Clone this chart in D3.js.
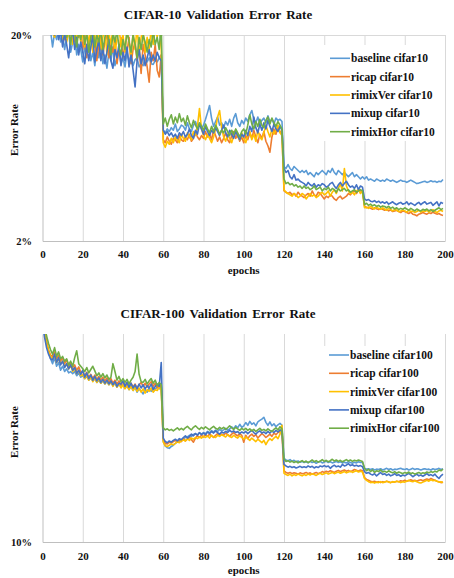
<!DOCTYPE html>
<html>
<head>
<meta charset="utf-8">
<title>CIFAR Validation Error Rate</title>
<script src="https://d3js.org/d3.v7.min.js"></script>
<style>
  body { margin: 0; background: #fff; }
  svg text { font-family: "Liberation Serif", "Times New Roman", serif; font-weight: bold; fill: #111; }
  .grid line { stroke: #d9d9d9; }
  .grid path { stroke: #bfbfbf; }
  .title { font-size: 13px; word-spacing: 2px; }
</style>
</head>
<body>
<div id="chart"></div>
<script>
"use strict"

// categories
const epochs = d3.range(200);
const xTicks = d3.range(0, 201, 20);
const names10 = ["baseline cifar10", "ricap cifar10", "rimixVer cifar10", "mixup cifar10", "rimixHor cifar10"];
const names100 = ["baseline cifar100", "ricap cifar100", "rimixVer cifar100", "mixup cifar100", "rimixHor cifar100"];
const colors = ["#5b9bd5", "#ed7d31", "#ffc000", "#4472c4", "#70ad47"];

// CIFAR-10 error rate (%) per epoch
const baseline10 = [
48,35,28,24,21,17.5,20.5,19,21.5,18.5, 20,17,19.5,21,16.5,18.5,20,16,18,17,
14.8,17.5,16,18.5,15,16.5,14.2,17.5,15.5,18.5, 14.5,16,13.8,16.5,15,17.5,14.2,15.5,17,14.5,
15.5,14,16.5,14.8,16,14.2,15.2,15.5,14,14.5, 14.2,15.5,14.8,15.5,14.5,14.4,15,14.8,15.5,16,
6.9,6.7,7.0,6.8,7.1,6.9,7.4,6.8,7.0,7.3, 7.2,6.9,7.5,7.0,6.8,7.3,7.6,7.1,7.4,7.0,
7.3,7.8,8.4,9.1,7.9,7.2,7.6,8.0,7.3,7.5, 7.1,7.6,7.3,7.8,7.2,7.9,8.3,7.5,7.2,7.7,
7.4,7.9,7.6,8.2,8.6,7.8,7.5,8.0,7.4,7.7, 7.9,7.5,8.1,7.6,7.8,7.4,7.9,7.7,7.8,7.6,
4.6,4.5,4.7,4.5,4.4,4.6,4.5,4.4,4.3,4.4, 4.3,4.4,4.2,4.3,4.2,4.1,4.3,4.2,4.3,4.4,
4.3,4.2,4.4,4.3,4.5,4.3,4.2,4.4,4.3,4.2, 4.3,4.2,4.1,4.2,4.3,4.1,4.2,4.1,4.0,4.1,
4.0,4.1,3.95,4.0,3.95,3.9,4.0,3.95,3.9,3.95, 3.9,4.0,3.95,3.9,3.95,3.9,3.85,3.9,3.95,3.9,
3.9,3.85,3.9,3.95,3.9,3.85,3.8,3.82,3.85,3.88, 3.9,3.85,3.88,3.92,3.88,3.9,3.85,3.9,3.88,3.98];
const ricap10 = [
50,38,30,26,23,22,24,21,23,20.5, 22,19,21,23,20,22,18.5,21,19.5,22,
17,20,15.5,19,21,16.5,19,15,18,20, 16,18.5,20.5,15.5,18,16.5,19,14.5,17,19.5,
15.5,18,16.5,19.5,14.5,17,18.5,15,17.5,13, 18,16,14,11.8,16.5,15,18,13.5,12.5,16,
6.2,6.0,6.4,6.1,5.9,6.3,6.2,6.0,6.5,6.2, 6.1,6.4,6.2,6.6,6.1,6.3,6.8,6.4,6.2,6.5,
6.3,6.8,6.4,6.6,6.2,6.9,6.5,6.1,6.4,6.0, 6.3,6.7,6.2,6.0,6.5,6.8,6.3,6.6,6.1,6.4,
6.0,6.5,6.2,6.7,6.3,6.9,6.4,6.0,6.6,6.3, 6.8,6.1,5.8,5.4,6.4,7.0,6.6,7.2,6.8,6.6,
3.5,3.45,3.4,3.45,3.35,3.4,3.3,3.45,3.35,3.3, 3.25,3.35,3.4,3.3,3.5,3.35,3.3,3.45,3.4,3.3,
3.2,3.3,3.25,3.35,3.3,3.2,3.15,3.25,3.3,3.2, 3.25,3.3,3.4,3.35,3.45,3.5,3.4,3.55,3.5,3.45,
2.95,2.9,2.92,2.88,2.85,2.9,2.87,2.84,2.88,2.85, 2.82,2.85,2.8,2.83,2.78,2.8,2.82,2.78,2.75,2.8,
2.78,2.75,2.72,2.76,2.7,2.68,2.65,2.7,2.72,2.75, 2.72,2.7,2.74,2.72,2.76,2.73,2.7,2.72,2.68,2.66];
const rimixVer10 = [
52,40,31,25,22.5,20.5,19.5,21,20,22, 19,21.5,18.5,20.5,22.5,18,21,19.5,22,18.5,
20.5,17.5,21,18,22,16.5,20,17.5,21.5,17, 19.5,22,16,20.5,18,21.5,16.5,19,22,17.5,
20,16.5,21,18.5,15.5,20.5,17,22,16,19.5, 21,16.5,19.5,17,21.5,18,22,19.5,23,17,
6.0,5.7,6.1,5.9,6.3,6.0,6.4,6.2,6.0,6.6, 6.3,6.1,6.7,6.4,6.2,6.8,6.5,7.2,8.8,7.0,
6.5,6.2,6.6,6.3,6.0,6.4,7.0,8.0,8.6,7.1, 6.4,6.1,6.6,6.3,6.0,6.5,6.9,6.4,6.2,6.7,
6.3,6.0,6.5,6.8,6.2,6.6,6.1,6.9,6.4,6.2, 6.7,7.3,6.8,6.4,7.0,6.6,6.9,7.3,6.7,6.5,
3.55,3.45,3.4,3.35,3.3,3.4,3.35,3.25,3.3,3.4, 3.35,3.2,3.3,3.4,3.3,3.35,3.25,3.3,3.4,3.45,
3.35,3.4,3.5,3.3,3.45,3.55,3.4,3.6,3.8,3.5, 4.5,3.7,3.5,3.4,3.45,3.35,3.5,3.55,3.4,3.5,
2.9,2.92,2.88,2.95,2.9,2.86,2.92,2.88,2.85,2.9, 2.86,2.82,2.88,2.84,2.8,2.85,2.82,2.78,2.8,2.83,
2.8,2.76,2.82,2.78,2.8,2.75,2.78,2.82,2.76,2.8, 2.78,2.82,2.76,2.8,2.84,2.78,2.75,2.8,2.82,2.78];
const mixup10 = [
55,42,33,27,24,22,20,23,19,21, 17.5,20.5,18,15.5,19,21,17,19.5,16,18.5,
16.5,14.5,18,15,17.5,20,14.8,17,19,15, 17.5,14.5,16.5,19,15,13.8,17,15.5,18,14.2,
16.5,15,17.5,14,16,13.5,11.2,15,17,14.5, 16,14.2,15.5,17,14.8,16,15,16.5,15.5,15,
6.9,6.6,6.8,6.5,6.7,6.4,6.6,6.3,6.7,6.5, 6.8,6.4,6.6,7.0,6.5,6.3,6.9,6.6,7.4,7.0,
6.6,7.2,6.8,6.5,6.9,6.7,7.1,6.8,6.5,6.9, 7.3,6.7,6.4,6.9,6.6,6.3,6.8,6.5,6.2,6.6,
6.4,6.9,6.5,7.2,6.8,8.0,7.1,6.7,7.4,6.9, 7.5,7.0,7.7,7.2,6.8,7.4,7.0,6.8,7.2,6.9,
4.5,4.3,4.4,4.1,4.0,4.2,3.95,4.0,3.9,3.85, 3.8,3.7,3.85,3.75,3.7,3.8,3.65,3.75,3.7,3.8,
3.75,3.65,3.7,3.8,3.85,3.7,3.6,3.75,3.85,3.7, 3.8,3.9,3.75,3.65,3.7,3.6,3.75,3.55,3.7,3.65,
3.2,3.15,3.18,3.12,3.1,3.14,3.08,3.12,3.06,3.1, 3.05,3.1,3.02,3.06,3.1,3.04,3.0,3.05,3.08,3.02,
3.04,3.1,3.0,3.06,3.02,2.98,3.04,3.08,3.0,3.06, 3.1,3.02,3.05,3.08,2.98,3.04,3.1,2.96,3.08,3.04];
const rimixHor10 = [
58,44,34,28,25,23,21.5,24,20.5,22.5, 20,23,19.5,21.5,18,22,20.5,17.5,21,19,
22,18,20.5,16.5,19.5,22,17.5,20,18.5,21.5, 17,19.5,22,18,16,20.5,18.5,21,17.5,16,
19,17,21,18.5,16.5,20,18,15.5,19.5,17, 20,18.5,16.5,19,17.5,21,18,19.5,17,23,
7.4,7.9,7.2,7.8,8.2,7.4,8.0,7.5,8.3,7.6, 7.9,7.3,8.1,7.5,7.1,7.7,7.3,7.0,7.5,7.2,
6.9,7.4,7.0,6.7,7.2,6.8,7.3,7.0,6.6,6.9, 6.7,7.1,6.8,6.5,6.9,6.6,7.0,6.7,6.4,6.8,
7.0,6.6,7.3,8.2,7.4,7.0,7.6,7.2,7.8,7.3, 7.1,7.7,8.0,7.4,7.9,7.5,7.2,7.6,7.3,7.0,
4.0,3.8,3.85,3.75,3.8,3.7,3.75,3.65,3.7,3.6, 3.7,3.6,3.65,3.55,3.6,3.7,3.55,3.6,3.65,3.5,
3.6,3.55,3.65,3.5,3.6,3.55,3.45,3.6,3.5,3.55, 3.6,3.5,3.55,3.45,3.5,3.55,3.45,3.5,3.55,3.5,
3.0,3.05,2.98,3.02,2.96,3.0,2.94,2.98,2.92,2.96, 2.94,2.9,2.95,2.88,2.92,2.86,2.9,2.84,2.88,2.85,
2.9,2.86,2.82,2.88,2.84,2.8,2.86,2.82,2.8,2.85, 2.82,2.86,2.8,2.84,2.78,2.82,2.86,2.9,2.84,2.88];

// CIFAR-100 error rate (%) per epoch
const baseline100 = [
115,100,90,82,76,72,77,70,73,67, 70,66,68,65,66,64.5,66,63,65,62,
63,61,62.5,60,61.5,59.5,61,58.5,60,58, 59.5,57.5,59,57,58.5,56.5,58,55.5,57.5,56,
57,55,56.5,54,56,53.5,55.5,52.5,54.5,53, 51.5,54,52.5,55,53,55.5,54,56,54.5,56,
30.5,29.0,28.4,28.2,28.8,29.2,29.8,30.2,30.6,31.0, 31.4,31.8,32.0,32.6,32.2,32.9,33.2,32.7,33.5,33.0,
33.6,33.2,34.0,33.5,34.3,33.8,34.5,34.0,34.8,34.2, 34.6,35.2,34.4,35.0,35.8,35.0,36.2,35.4,36.8,35.6,
36.2,37.5,36.4,38.0,36.8,37.4,36.2,37.8,38.4,39.0, 39.8,37.6,36.4,37.8,36.2,37.0,35.8,36.6,37.2,36.4,
25.2,24.8,24.6,24.9,24.4,24.7,24.3,24.5,24.2,24.4, 24.1,24.3,24.0,24.4,24.1,24.3,23.9,24.2,24.4,24.0,
24.2,24.5,24.1,24.3,24.0,24.2,24.4,24.1,24.3,24.0, 24.2,24.0,24.3,24.1,23.9,24.2,24.0,24.3,24.1,24.2,
22.6,22.4,22.5,22.3,22.5,22.2,22.4,22.3,22.5,22.2, 22.4,22.6,22.3,22.5,22.2,22.4,22.3,22.5,22.6,22.4,
22.3,22.5,22.2,22.4,22.6,22.3,22.5,22.4,22.2,22.4, 22.5,22.3,22.4,22.2,22.5,22.3,22.4,22.6,22.3,22.5];
const ricap100 = [
120,105,92,84,79,78,82,76,79,74, 77,72,75,70,73,69,71,67,69.5,65.5,
66,63,65.5,62,64,61,63.5,60.5,62.5,60, 62,59.5,61.5,58.5,61,58,60,57.5,59.5,57,
59,56.5,58.5,56,58,55.5,57.5,55,57,58.5, 56,58,55.5,57.5,59,56,58,55,57,56,
31.0,29.8,29.6,30.2,29.9,30.4,30.8,30.2,31.0,30.4, 31.4,30.6,31.2,32.0,31.0,30.2,31.6,32.4,31.8,32.6,
32.0,32.8,32.2,33.0,32.4,31.8,32.6,33.2,32.4,33.0, 32.6,33.4,32.8,32.2,33.0,33.6,32.8,32.4,33.2,32.6,
30.2,32.6,31.4,32.4,33.0,32.2,32.8,31.6,32.4,33.2, 32.6,31.8,32.4,33.0,32.2,33.4,32.8,33.6,34.0,32.8,
22.0,21.6,21.4,21.6,21.3,21.5,21.4,21.2,21.5,21.3, 21.4,21.6,21.3,21.5,21.2,21.4,21.6,21.3,21.5,21.8,
21.6,21.9,21.7,22.0,21.8,21.6,21.9,22.1,21.8,22.0, 22.2,21.9,22.1,21.8,22.0,22.3,22.1,21.9,22.2,22.0,
20.4,20.0,19.8,19.6,19.5,19.6,19.4,19.5,19.3,19.5, 19.4,19.6,19.5,19.3,19.5,19.4,19.6,19.5,19.7,19.6,
19.8,19.6,19.7,19.9,19.7,19.8,19.6,19.8,19.9,19.7, 19.9,20.1,19.9,20.2,20.0,19.8,19.6,19.5,19.3,19.4];
const rimixVer100 = [
118,102,90,83,78,76,79,73,76,72, 74,70,72,68,70.5,66,68,64.5,67,63,
64,61,63,60,62,59,61.5,58.5,60.5,58, 60,57.5,59.5,57,59,56,58.5,55.5,57.5,55,
57,54.5,56.5,54,56,53.5,55.5,53,55,52.5, 54.5,52,54,53,55,52.5,54,53.5,55.5,54,
30.2,29.0,28.8,29.2,29.6,29.3,29.8,30.4,30.0,30.6, 31.0,30.6,31.4,30.8,31.6,31.2,31.8,31.4,32.0,31.6,
32.2,31.8,32.4,31.6,32.6,32.0,31.8,32.6,32.2,32.8, 32.4,32.0,32.8,32.2,31.8,32.6,32.0,31.6,32.4,31.8,
31.2,32.0,31.4,30.8,31.6,31.0,30.4,31.2,30.6,30.0, 30.8,29.4,30.6,31.4,30.8,31.6,32.2,31.4,33.0,36.4,
21.4,21.1,20.9,21.2,20.8,21.1,20.9,21.2,21.0,20.8, 21.1,20.9,21.2,21.0,21.3,21.1,20.9,21.2,21.4,21.1,
21.3,21.5,21.2,21.4,21.6,21.3,21.5,21.7,21.4,21.6, 21.8,21.5,21.7,21.9,21.6,21.8,22.0,21.7,21.9,21.7,
20.2,19.8,19.5,19.3,19.4,19.2,19.4,19.3,19.5,19.3, 19.4,19.6,19.4,19.3,19.5,19.4,19.6,19.5,19.3,19.5,
19.4,19.6,19.8,19.6,19.5,19.7,19.5,19.3,19.2,19.4, 19.6,19.8,19.6,19.9,19.7,19.8,19.6,19.4,19.5,19.3];
const mixup100 = [
112,97,86,80,76,75,80,73,77,71, 74,69,72,68,71,67,69,64.5,67,64,
67,62,65,61,63.5,60,62.5,59.5,61.5,58.5, 60.5,58,60,57.5,59.5,57,59,56,58,57.5,
59.5,56,58.5,55.5,58,55,57,54.5,57.5,55, 57,54.5,56.5,55,57.5,54,56,57.5,56,73,
31.6,30.4,30.0,30.6,30.2,30.8,31.2,30.6,31.4,31.0, 31.8,32.4,31.6,32.2,33.0,32.4,33.2,32.6,33.6,32.8,
33.4,32.8,33.8,33.2,34.0,33.4,34.2,33.6,33.0,33.8, 33.4,34.0,33.6,34.4,33.8,34.2,33.6,34.0,33.2,33.8,
33.4,34.0,33.2,33.8,34.4,33.6,33.0,33.8,34.2,33.4, 33.8,33.2,34.0,33.4,34.2,33.6,34.4,33.8,34.6,34.0,
23.6,23.2,22.9,23.1,22.8,23.0,22.7,22.9,23.1,22.8, 23.0,22.8,23.2,22.9,23.1,22.7,23.0,22.8,23.2,23.0,
23.3,23.0,23.2,22.6,23.1,23.4,23.0,23.2,22.9,23.6, 23.2,23.4,23.8,23.3,23.5,23.2,23.4,23.1,23.3,23.0,
21.8,21.4,21.6,21.2,21.0,21.3,20.8,21.2,21.6,21.1, 21.3,20.9,21.2,20.8,21.0,21.3,20.9,21.1,20.7,21.0,
20.8,21.1,21.4,21.0,20.6,20.9,21.2,20.8,21.0,20.7, 21.0,21.3,20.9,21.1,20.8,21.2,20.6,20.2,20.8,21.2];
const rimixHor100 = [
125,110,98,90,84,80,86,78,82,76, 78,74,76,71,74,70,77,83,72,70,
68,66,69,65,67.5,70,66.5,63,65,62, 64.5,61.5,63.5,60.5,62,72,66,60,62.5,59,
61,58.5,60.5,57.5,60,62,66,80,64,59, 58.5,60.5,57.5,59.5,61,58,60,56.5,58.5,57,
35.4,34.6,35.0,34.4,34.8,34.2,34.8,35.4,34.6,35.2, 34.6,35.4,36.0,35.2,34.6,35.6,36.2,35.4,34.8,35.6,
35.0,35.8,35.2,34.6,35.4,36.0,35.2,34.8,35.6,35.0, 35.6,34.8,35.4,36.2,35.4,34.8,35.6,35.0,34.4,35.2,
34.6,35.2,34.4,35.0,34.2,34.8,34.0,34.6,35.2,34.4, 34.8,34.2,35.0,34.4,34.0,34.8,35.4,34.6,35.8,35.0,
25.0,24.4,24.6,24.2,24.5,24.1,24.4,24.0,24.3,24.6, 24.2,24.5,24.1,24.4,24.8,24.3,24.6,24.2,24.5,24.9,
24.4,24.7,24.3,24.6,25.0,24.5,24.8,24.4,24.7,24.3, 24.6,24.9,24.5,24.8,24.4,24.7,24.5,24.8,24.6,24.4,
22.6,22.0,22.4,21.8,22.2,21.6,22.0,21.8,22.2,21.7, 21.9,21.6,22.0,21.7,21.5,21.8,21.4,21.7,21.5,21.3,
21.6,21.4,21.7,21.3,21.5,21.2,21.4,21.6,21.3,21.5, 21.4,21.7,21.5,21.8,21.6,21.9,21.7,22.2,22.0,22.4];

const W = 454, H = 578;
const svg = d3.select("#chart").append("svg")
    .attr("width", W)
    .attr("height", H)
    .style("background", "#fff");

const x = d3.scaleLinear().domain([0, 200]).range([42.5, 445]);

const panels = [
  { id: "c10", title: "CIFAR-10 Validation Error Rate", titleY: 19, top: 35, bottom: 241,
    domain: [2, 20], yTicks: [2, 20], names: names10,
    series: [baseline10, ricap10, rimixVer10, mixup10, rimixHor10],
    tickPad: 9.5, xTitleY: 273.5, yTitleY: 130,
    legend: { top: 45, bottom: 141, row0: 58.3, step: 18.35, x0: 330 } },
  { id: "c100", title: "CIFAR-100 Validation Error Rate", titleY: 318, top: 334, bottom: 542,
    domain: [10, 100], yTicks: [10], names: names100,
    series: [baseline100, ricap100, rimixVer100, mixup100, rimixHor100],
    tickPad: 10, xTitleY: 574, yTitleY: 432,
    legend: { top: 346, bottom: 438, row0: 355, step: 18.3, x0: 329 } }
];

function draw(p) {
  const y = d3.scaleLog().domain(p.domain).range([p.bottom, p.top]);
  const g = svg.append("g");

  g.append("text").attr("class", "title")
    .attr("x", 218).attr("y", p.titleY)
    .attr("text-anchor", "middle")
    .text(p.title);

  // x axis + vertical gridlines
  const xa = g.append("g").attr("class", "grid")
    .attr("transform", "translate(0," + p.bottom + ")")
    .call(d3.axisBottom(x).tickValues(xTicks)
      .tickSizeInner(-(p.bottom - p.top)).tickSizeOuter(0).tickPadding(p.tickPad));
  xa.selectAll(".tick line").filter(d => d === 0).remove();
  xa.selectAll("text").style("font-size", "11px");

  // y axis (log)
  const ya = g.append("g").attr("class", "grid")
    .attr("transform", "translate(" + x(0) + ",0)")
    .call(d3.axisLeft(y).tickValues(p.yTicks).tickFormat(d => d + "%")
      .tickSizeInner(-(x(200) - x(0))).tickSizeOuter(0).tickPadding(10.5));
  ya.selectAll(".tick line").filter(d => d === p.domain[0]).remove();
  ya.selectAll("text").style("font-size", "10.5px");

  g.append("text")
    .attr("x", (x(0) + x(200)) / 2).attr("y", p.xTitleY)
    .attr("text-anchor", "middle").style("font-size", "11px")
    .text("epochs");
  g.append("text")
    .attr("transform", "translate(18," + p.yTitleY + ") rotate(-90)")
    .attr("text-anchor", "middle").style("font-size", "11px")
    .text("Error Rate");

  // lines
  svg.append("clipPath").attr("id", "clip-" + p.id)
    .append("rect")
      .attr("x", x(0)).attr("y", p.top)
      .attr("width", x(200) - x(0)).attr("height", p.bottom - p.top);

  const line = d3.line()
    .x((d, i) => x(epochs[i]))
    .y(d => y(d));

  g.append("g").attr("clip-path", "url(#clip-" + p.id + ")")
    .selectAll("path")
    .data(p.series)
    .enter()
      .append("path")
        .attr("d", line)
        .attr("fill", "none")
        .attr("stroke", (d, i) => colors[i])
        .attr("stroke-width", 1.6)
        .attr("stroke-linejoin", "round");

  // legend
  const L = p.legend;
  g.append("rect")
    .attr("x", 321).attr("y", L.top)
    .attr("width", 122).attr("height", L.bottom - L.top)
    .attr("fill", "#fff");
  const items = g.selectAll(".leg")
    .data(p.names)
    .enter().append("g")
      .attr("transform", (d, i) => "translate(0," + (L.row0 + i * L.step) + ")");
  items.append("line")
    .attr("x1", L.x0).attr("x2", L.x0 + 20)
    .attr("stroke", (d, i) => colors[i])
    .attr("stroke-width", 1.6);
  items.append("text")
    .attr("x", L.x0 + 21).attr("dy", "0.35em")
    .style("font-size", "11.5px")
    .text(d => d);
}

panels.forEach(draw);
</script>
</body>
</html>
